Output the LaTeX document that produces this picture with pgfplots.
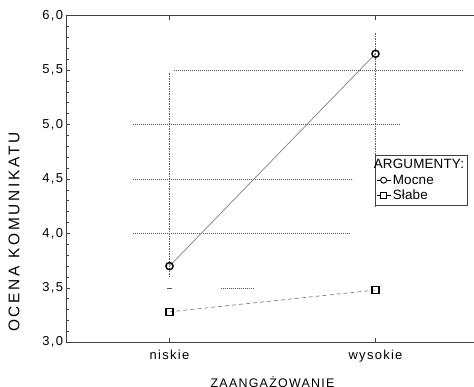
\documentclass[border=0pt]{standalone}
\usepackage{fontspec}
\setmainfont{Liberation Sans}[LetterSpace=10]
\newfontfamily\ylabfont{Liberation Sans}[LetterSpace=18]
\newfontfamily\legfont{Liberation Sans}[LetterSpace=1]
\usepackage{pgfplots}
\pgfplotsset{compat=1.18}
\newcommand{\lblfont}{\fontsize{13}{15}\selectfont}
\begin{document}
\begin{tikzpicture}
\begin{axis}[
  scale only axis, width=412bp, height=326.6bp,
  xmin=-0.5, xmax=1.5, ymin=3, ymax=6,
  xtick={0,1}, xticklabels={niskie,wysokie},
  ytick={3,3.5,4,4.5,5,5.5,6},
  minor y tick num=4,
  tick align=inside,
  major tick length=4bp, minor tick length=2.5bp,
  ytick pos=left, xtick pos=both, xticklabel pos=bottom,
  axis line style={draw=black!75, line width=0.8bp},
  every tick/.style={draw=black!75, line width=0.6bp},
  /pgf/number format/assume math mode=true,
  yticklabel style={/pgf/number format/.cd, fixed, fixed zerofill, precision=1, use comma},
  tick label style={font=\lblfont},
  xticklabel style={yshift=-4bp},
  xlabel={ZAANGAŻOWANIE},
  ylabel={OCENA KOMUNIKATU},
  xlabel style={font=\fontsize{12.5}{14}\selectfont, at={(axis description cs:0.5,0)}, anchor=base, yshift=-45bp},
  ylabel style={font=\ylabfont\fontsize{15.5}{17}\selectfont, at={(axis description cs:-0.127,0.338)}, anchor=center},
  legend style={at={(axis description cs:0.749,0.573)}, anchor=north west,
    draw=black!75, line width=0.6bp, font=\legfont\fontsize{13.5}{15}\selectfont, inner xsep=1bp, inner ysep=2bp,
    row sep=0.5bp, cells={anchor=west}},
  legend cell align=left,
]
% dotted lines
\addplot[forget plot, black!65, line width=0.6bp, dash pattern=on 1bp off 1bp] coordinates {(0.02,5.5)(1.427,5.5)};
\addplot[forget plot, black!65, line width=0.6bp, dash pattern=on 1bp off 1bp] coordinates {(-0.175,5.0)(1.121,5.0)};
\addplot[forget plot, black!65, line width=0.6bp, dash pattern=on 1bp off 1bp] coordinates {(-0.175,4.5)(0.893,4.5)};
\addplot[forget plot, black!65, line width=0.6bp, dash pattern=on 1bp off 1bp] coordinates {(-0.175,4.0)(0.879,4.0)};
\addplot[forget plot, black!65, line width=0.6bp, dash pattern=on 1bp off 1bp] coordinates {(0.248,3.5)(0.408,3.5)};
\addplot[forget plot, black!65, line width=0.6bp] coordinates {(-0.012,3.5)(0.012,3.5)};
\addplot[forget plot, black!65, line width=0.6bp, dash pattern=on 1.5bp off 1bp] coordinates {(0,5.47)(0,3.6)};
\addplot[forget plot, black!65, line width=0.6bp, dash pattern=on 1.5bp off 1bp] coordinates {(1,5.84)(1,4.24)};
% series
\addplot[forget plot, black!50, line width=0.7bp, mark=o, mark size=3.6bp,
  mark options={draw=black, solid, line width=1.4bp, fill=white}] coordinates {(0,3.70)(1,5.65)};
\addplot[forget plot, black!50, line width=0.7bp, dash pattern=on 4bp off 3bp, mark=square, mark size=3.6bp,
  mark options={draw=black, solid, line width=1.4bp, fill=white}] coordinates {(0,3.28)(1,3.48)};
% legend
\addlegendimage{empty legend}
\addlegendentry{\hspace{-19bp}ARGUMENTY:}
\addlegendimage{legend image code/.code={\draw[black, line width=0.5bp] (0bp,0bp)--(14bp,0bp);
  \draw[black, line width=0.9bp, fill=white] (7bp,0bp) circle (3bp);}}
\addlegendentry{Mocne}
\addlegendimage{legend image code/.code={\draw[black, line width=0.5bp] (0bp,0bp)--(14bp,0bp);
  \draw[black, line width=0.9bp, fill=white] (4.1bp,-2.9bp) rectangle (9.9bp,2.9bp);}}
\addlegendentry{Słabe}
\coordinate (bl) at (rel axis cs:0,0);
\coordinate (tr) at (rel axis cs:1,1);
\end{axis}
\pgfresetboundingbox
\path[use as bounding box] ([xshift=-66.5bp,yshift=-44.7bp]bl) rectangle ([xshift=-4.5bp,yshift=15.7bp]tr);
\end{tikzpicture}
\end{document}
